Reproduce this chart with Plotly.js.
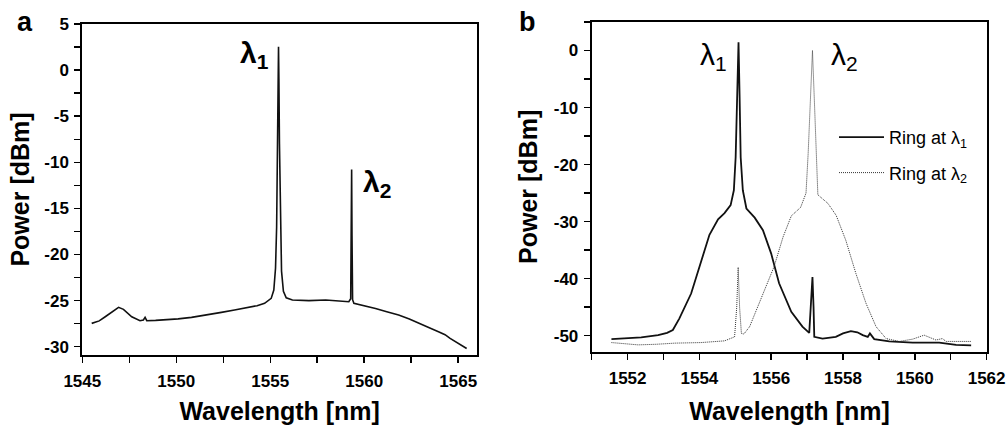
<!DOCTYPE html>
<html>
<head>
<meta charset="utf-8">
<script src="https://cdn.plot.ly/plotly-3.0.1.min.js"></script>
<style>html,body{margin:0;padding:0;background:#fff;}#chart{width:1006px;height:425px;}
#chart .xtick text, #chart .ytick text, #chart .x2tick text, #chart .y2tick text{font-weight:bold !important;}</style>
</head>
<body>
<div id="chart"></div>
<script>
// Panel a: laser output spectrum
const aWavelength = [1545.5, 1545.9, 1546.22, 1546.6, 1546.93, 1547.19, 1547.4, 1547.63, 1548.07, 1548.25, 1548.34, 1548.43, 1548.9, 1549.4, 1550.1, 1550.81, 1551.6, 1552.4, 1553.1, 1553.82, 1554.3, 1554.7, 1555.05, 1555.19, 1555.28, 1555.34, 1555.39, 1555.42, 1555.44, 1555.46, 1555.49, 1555.54, 1555.6, 1555.7, 1555.85, 1556.18, 1557.06, 1557.95, 1558.6, 1559.18, 1559.28, 1559.31, 1559.33, 1559.35, 1559.38, 1559.45, 1560.0, 1560.6, 1561.2, 1561.83, 1562.4, 1562.89, 1563.4, 1563.95, 1564.3, 1564.57, 1564.9, 1565.2, 1565.45];
const aPower = [-27.47, -27.2, -26.75, -26.2, -25.73, -25.95, -26.35, -26.75, -27.18, -27.1, -26.82, -27.18, -27.15, -27.1, -26.98, -26.82, -26.58, -26.28, -26.02, -25.73, -25.55, -25.3, -24.76, -23.86, -21.5, -17, -8, -1, 2.53, -1, -8, -17, -21.8, -24.0, -24.7, -24.94, -25.0, -24.94, -25.0, -25.12, -24.8, -18, -10.77, -18, -24.9, -25.3, -25.55, -25.85, -26.2, -26.57, -27.0, -27.47, -27.9, -28.37, -28.7, -29.1, -29.5, -29.85, -30.2];

// Panel b: Ring at lambda1
const bWavelength1 = [1551.55, 1552.0, 1552.38, 1552.85, 1553.1, 1553.26, 1553.44, 1553.77, 1554.05, 1554.28, 1554.52, 1554.7, 1554.87, 1554.96, 1555.01, 1555.05, 1555.09, 1555.12, 1555.15, 1555.21, 1555.31, 1555.54, 1555.77, 1556.0, 1556.22, 1556.56, 1556.87, 1557.06, 1557.11, 1557.15, 1557.18, 1557.2, 1557.43, 1557.8, 1558.0, 1558.22, 1558.4, 1558.55, 1558.69, 1558.75, 1558.87, 1559.29, 1559.94, 1560.68, 1561.15, 1561.57];
const bPower1 = [-50.6, -50.5, -50.3, -49.9, -49.5, -49.0, -47.0, -42.6, -37.0, -32.3, -29.6, -28.5, -27.1, -24.5, -18.7, -8, 1.46, -8, -18.7, -24.5, -27.7, -29.3, -31.5, -35.6, -40.8, -45.8, -48.4, -49.5, -45, -39.7, -45, -50.2, -50.5, -50.2, -49.6, -49.2, -49.4, -49.9, -50.2, -49.6, -50.6, -51.0, -51.2, -51.2, -51.6, -51.7];

// Panel b: Ring at lambda2
const bWavelength2 = [1551.55, 1552.29, 1552.8, 1553.31, 1554.05, 1554.7, 1554.98, 1555.04, 1555.08, 1555.12, 1555.17, 1555.24, 1555.4, 1555.63, 1555.86, 1556.08, 1556.33, 1556.56, 1556.82, 1556.97, 1557.03, 1557.08, 1557.15, 1557.21, 1557.26, 1557.3, 1557.58, 1557.81, 1558.08, 1558.36, 1558.64, 1558.92, 1559.2, 1559.57, 1559.94, 1560.26, 1560.59, 1560.77, 1560.87, 1561.57];
const bPower2 = [-51.2, -51.6, -51.5, -51.3, -51.2, -50.9, -50.2, -45, -38.0, -45, -49.6, -49.7, -48.4, -44.9, -41.4, -37.9, -32.7, -29.0, -27.5, -25.0, -18, -10, 0.0, -10, -18, -25.3, -26.8, -28.9, -33.3, -39.1, -44.3, -48.4, -50.5, -51.0, -50.6, -49.9, -50.75, -50.5, -51.0, -51.0];

// Tick values and labels
const aXTicks = [1545, 1550, 1555, 1560, 1565];
const aYTicks = [5, 0, -5, -10, -15, -20, -25, -30];
const bXTicks = [1552, 1554, 1556, 1558, 1560, 1562];
const bYTicks = [0, -10, -20, -30, -40, -50];

const legendNames = ['Ring at λ<sub>1</sub>', 'Ring at λ<sub>2</sub>'];
const panelLabels = ['a', 'b'];

const W = 1006, H = 425;
const px = v => v / W;
const py = v => 1 - v / H;
const FONT = 'Liberation Sans, Arial, Helvetica, sans-serif';
const lbl = arr => arr.map(v => '<b>' + String(v) + '</b>');

const traces = [
  {x: aWavelength, y: aPower, xaxis: 'x', yaxis: 'y', mode: 'lines', showlegend: false,
   line: {color: '#111', width: 1.6}},
  {x: bWavelength1, y: bPower1, xaxis: 'x2', yaxis: 'y2', mode: 'lines', name: legendNames[0],
   legendgroup: 'g1', line: {color: '#111', width: 1.8}},
  {x: bWavelength2, y: bPower2, xaxis: 'x2', yaxis: 'y2', mode: 'lines', name: legendNames[1],
   legendgroup: 'g2', line: {color: '#333', width: 1, dash: '1px,1px'}}
];

const tickFont = {family: FONT, size: 17, color: '#000', weight: 700};
const titleFont = {family: FONT, size: 25, color: '#000', weight: 'bold'};
const minorSpec = d => ({ticks: 'outside', dtick: d, ticklen: 6, tickwidth: 1.5, tickcolor: '#000'});

function ax(extra) {
  return Object.assign({
    showline: true, mirror: true, linecolor: '#000', linewidth: 2,
    ticks: 'outside', ticklen: 6, tickwidth: 1.5, tickcolor: '#000',
    showgrid: false, zeroline: false, tickmode: 'array',
    tickfont: tickFont
  }, extra);
}

const layout = {
  width: W, height: H,
  margin: {l: 0, r: 0, t: 0, b: 0},
  paper_bgcolor: '#fff', plot_bgcolor: '#fff',
  showlegend: true,
  legend: {x: px(834), y: py(119), xanchor: 'left', yanchor: 'top',
           traceorder: 'grouped', tracegroupgap: 9, itemwidth: 45,
           bgcolor: 'rgba(0,0,0,0)', font: {family: FONT, size: 18, color: '#000'}},
  xaxis: ax({domain: [px(82.3), px(477)], anchor: 'y', range: [1545, 1566],
             tickvals: aXTicks, ticktext: lbl(aXTicks), minor: minorSpec(2.5),
             ticklabelstandoff: 4,
             title: {text: 'Wavelength [nm]', standoff: 13, font: titleFont}}),
  yaxis: ax({domain: [py(355), py(24)], anchor: 'x', range: [-30.9, 5],
             tickvals: aYTicks, ticktext: lbl(aYTicks), minor: minorSpec(2.5),
             ticklabelstandoff: 2,
             title: {text: 'Power [dBm]', standoff: 8, font: titleFont}}),
  xaxis2: ax({domain: [px(591.7), px(987.3)], anchor: 'y2', range: [1551, 1562.02],
             tickvals: bXTicks, ticktext: lbl(bXTicks), minor: minorSpec(1),
             ticklabelstandoff: 4,
             title: {text: 'Wavelength [nm]', standoff: 19, font: titleFont}}),
  yaxis2: ax({domain: [py(351.7), py(22)], anchor: 'x2', range: [-52.8, 5],
             tickvals: bYTicks, ticktext: lbl(bYTicks), minor: minorSpec(5),
             ticklabelstandoff: 2,
             title: {text: 'Power [dBm]', standoff: 9, font: titleFont}}),
  annotations: [
    {xref: 'paper', yref: 'paper', x: px(25), y: py(22), xanchor: 'center', yanchor: 'middle',
     text: panelLabels[0], showarrow: false, font: {family: FONT, size: 27, color: '#000', weight: 'bold'}},
    {xref: 'paper', yref: 'paper', x: px(527), y: py(22), xanchor: 'center', yanchor: 'middle',
     text: panelLabels[1], showarrow: false, font: {family: FONT, size: 27, color: '#000', weight: 'bold'}},
    {xref: 'paper', yref: 'paper', x: px(254), y: py(55), xanchor: 'center', yanchor: 'middle',
     text: 'λ<sub>1</sub>', showarrow: false, font: {family: FONT, size: 30, color: '#000', weight: 'bold'}},
    {xref: 'paper', yref: 'paper', x: px(377), y: py(183), xanchor: 'center', yanchor: 'middle',
     text: 'λ<sub>2</sub>', showarrow: false, font: {family: FONT, size: 30, color: '#000', weight: 'bold'}},
    {xref: 'paper', yref: 'paper', x: px(713), y: py(56), xanchor: 'center', yanchor: 'middle',
     text: 'λ<sub>1</sub>', showarrow: false, font: {family: FONT, size: 30, color: '#000'}},
    {xref: 'paper', yref: 'paper', x: px(844), y: py(56), xanchor: 'center', yanchor: 'middle',
     text: 'λ<sub>2</sub>', showarrow: false, font: {family: FONT, size: 30, color: '#000'}}
  ]
};

Plotly.newPlot('chart', traces, layout, {displayModeBar: false, staticPlot: true});
</script>
</body>
</html>
